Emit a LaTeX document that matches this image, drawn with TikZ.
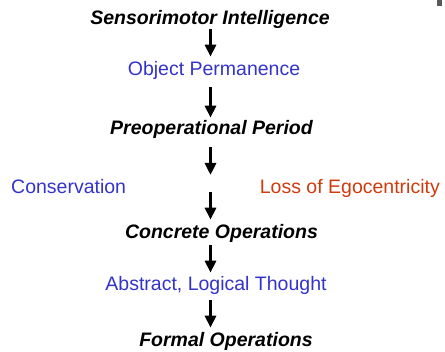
\documentclass[tikz,border=0pt]{standalone}
\usepackage{fontspec}
\setmainfont{Liberation Sans}
\usepackage{xcolor}
\usetikzlibrary{positioning,calc,arrows.meta}
\definecolor{stageblue}{RGB}{51,51,204}
\definecolor{stagered}{RGB}{208,58,12}
\tikzset{
  stage/.style={inner sep=0pt, anchor=base, font=\fontsize{19.5pt}{23pt}\selectfont\bfseries\itshape},
  skill/.style={inner sep=0pt, anchor=base, text=stageblue, font=\fontsize{19.5pt}{23pt}\selectfont},
  stagearrow/.style={-{Triangle[length=12pt,width=11pt]}, line width=3pt, shorten <=4pt, shorten >=4pt}
}

\begin{document}
\begin{tikzpicture}[x=1pt, y=-1pt]
			\useasboundingbox (0,0) rectangle (445,352);
			\fill[black!65] (437,0) rectangle (442,6);
			\coordinate (axis) at (210.5,0);
			\node [stage] (sensori) at (210,25) {Sensorimotor Intelligence};
			\node [skill] (permanence) at (214,76) {Object Permanence};
			\node [stage] (preop) at (211.5,135) {Preoperational Period};
			\node [skill, anchor=base west] (conserv) at (11,194) {Conservation};
			\node [skill, anchor=base east, text=stagered] (ego) at (440,194) {Loss of Egocentricity};
			\coordinate (gap) at (210.5,183.5);
			\node [stage] (concrete) at (221.5,239) {Concrete Operations};
			\node [skill] (abstract) at (216,291) {Abstract, Logical Thought};
			\node [stage] (formal) at (226,347) {Formal Operations};
			% arrows between the stages
			\draw [stagearrow, shorten <=0pt, shorten >=5pt] (sensori.south -| axis) -- (permanence.north -| axis);
			\draw [stagearrow, shorten <=7pt, shorten >=3pt] (permanence.south -| axis) -- (preop.north -| axis);
			\draw [stagearrow, shorten <=8pt, shorten >=8.5pt] (preop.south -| axis) -- (gap);
			\draw [stagearrow, shorten <=8.5pt, shorten >=5pt] (gap) -- (concrete.north -| axis);
			\draw [stagearrow, shorten <=2pt] (concrete.south -| axis) -- (abstract.north -| axis);
			\draw [stagearrow, shorten <=5pt, shorten >=5pt] (abstract.south -| axis) -- (formal.north -| axis);
		\end{tikzpicture}
\end{document}
